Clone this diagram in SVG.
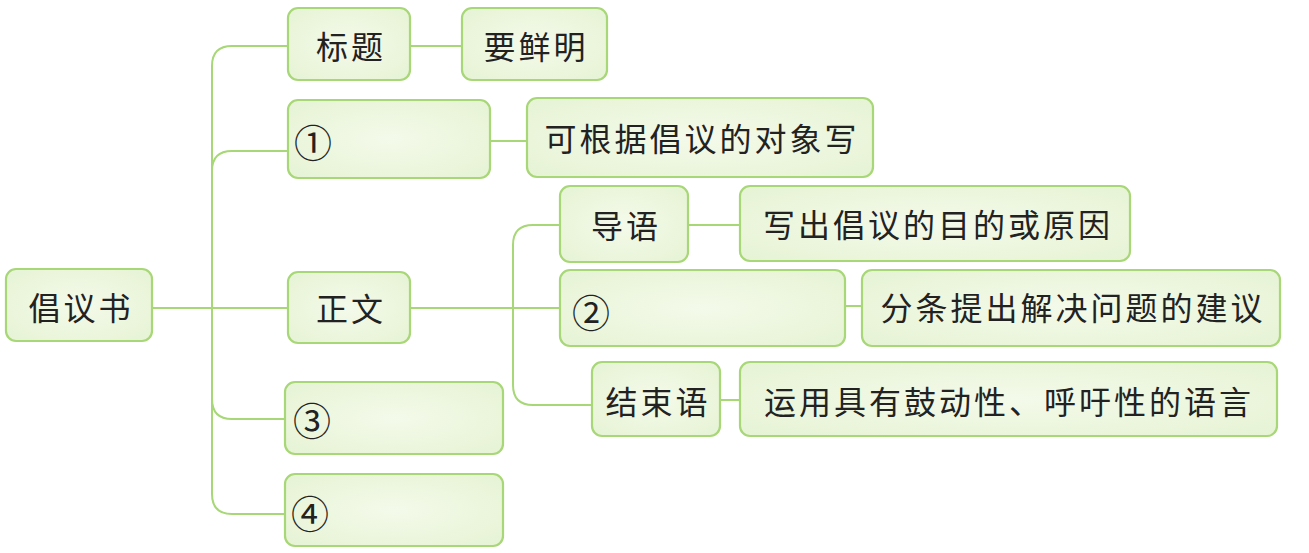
<svg xmlns="http://www.w3.org/2000/svg" width="1309" height="553" viewBox="0 0 1309 553">
<defs>
<radialGradient id="g" cx="50%" cy="50%" r="70%">
<stop offset="0" stop-color="#f4faea"/>
<stop offset="1" stop-color="#e6f3d4"/>
</radialGradient>
<style>
.box{fill:url(#g);stroke:#a7d777;stroke-width:2.2}
.t{font-family:"Noto Sans CJK SC","Noto Sans CJK JP",sans-serif;font-size:32px;fill:#222;letter-spacing:3px;dominant-baseline:central}
.c{text-anchor:middle}
.n{font-family:"Noto Sans CJK SC","DejaVu Sans",sans-serif;font-size:38px;fill:#222;dominant-baseline:central}
.ln{fill:none;stroke:#a7d777;stroke-width:2}
</style>
</defs>
<rect width="1309" height="553" fill="#ffffff"/>
<g id="connectors">
<path class="ln" d="M152 308 H288"/>
<path class="ln" d="M288 46 H232 Q212 46 212 66 V494 Q212 514 232 514 H285"/>
<path class="ln" d="M288 151 H232 Q212 151 212 171"/>
<path class="ln" d="M212 399 Q212 419 232 419 H285"/>
<path class="ln" d="M410 308 H560"/>
<path class="ln" d="M560 225 H533 Q513 225 513 245 V385 Q513 405 533 405 H592"/>
<path class="ln" d="M410 46 H462"/>
<path class="ln" d="M490 141 H527"/>
<path class="ln" d="M688 225 H740"/>
<path class="ln" d="M845 306 H862"/>
<path class="ln" d="M720 400 H740"/>
</g>
<g id="root"><rect class="box" x="6" y="269" width="146" height="72" rx="10"/><text class="t c" x="81" y="306">倡议书</text></g>
<g id="biaoti"><rect class="box" x="288" y="8" width="122" height="72" rx="10"/><text class="t c" x="351" y="45">标题</text></g>
<g id="yaoxianming"><rect class="box" x="462" y="8" width="145" height="72" rx="10"/><text class="t c" x="536" y="45">要鲜明</text></g>
<g id="n1"><rect class="box" x="288" y="100" width="202" height="78" rx="10"/><text class="n" x="294" y="140">①</text></g>
<g id="n1r"><rect class="box" x="527" y="98" width="346" height="79" rx="10"/><text class="t c" x="702" y="137">可根据倡议的对象写</text></g>
<g id="zhengwen"><rect class="box" x="288" y="272" width="122" height="71" rx="10"/><text class="t c" x="351" y="307">正文</text></g>
<g id="daoyu"><rect class="box" x="560" y="186" width="128" height="76" rx="10"/><text class="t c" x="626" y="224">导语</text></g>
<g id="daoyur"><rect class="box" x="740" y="186" width="390" height="75" rx="10"/><text class="t c" x="938" y="223">写出倡议的目的或原因</text></g>
<g id="n2"><rect class="box" x="560" y="270" width="285" height="76" rx="10"/><text class="n" x="572" y="310">②</text></g>
<g id="n2r"><rect class="box" x="862" y="270" width="418" height="76" rx="10"/><text class="t c" x="1073" y="306">分条提出解决问题的建议</text></g>
<g id="jieshuyu"><rect class="box" x="592" y="362" width="128" height="74" rx="10"/><text class="t c" x="658" y="400">结束语</text></g>
<g id="jieshuyur"><rect class="box" x="740" y="362" width="537" height="74" rx="10"/><text class="t c" x="1009" y="400">运用具有鼓动性、呼吁性的语言</text></g>
<g id="n3"><rect class="box" x="285" y="382" width="218" height="72" rx="10"/><text class="n" x="293" y="418">③</text></g>
<g id="n4"><rect class="box" x="285" y="474" width="218" height="72" rx="10"/><text class="n" x="291" y="511">④</text></g>
</svg>
